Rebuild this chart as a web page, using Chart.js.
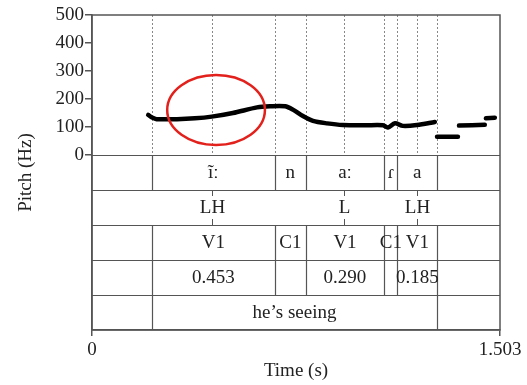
<!DOCTYPE html>
<html>
<head>
<meta charset="utf-8">
<script src="https://cdn.jsdelivr.net/npm/chart.js@4"></script>
<style>
  body { margin: 0; background: #fff; }
  canvas { display: block; }
</style>
</head>
<body>
<canvas id="pitchChart" width="527" height="385"></canvas>
<script>
// pitch track (time in s, F0 in Hz; null = unvoiced gap)
const pitchTimes = [0.207, 0.221, 0.238, 0.313, 0.379, 0.441, 0.519, 0.608, 0.656, 0.711, 0.740, 0.777, 0.814, 0.866, 0.924, 1.006, 1.072, 1.090, 1.116, 1.145, 1.197, 1.263,
    1.267, 1.271, 1.348,
    1.350, 1.352, 1.447,
    1.449, 1.451, 1.484];
const pitchHz = [143, 134, 128, 128, 131, 137, 150, 170, 174, 174, 162, 139, 122, 113, 107, 106, 106, 98, 113, 104, 107, 118,
    null, 65, 65,
    null, 105, 108,
    null, 131, 133];

// text grid tiers
const segBounds = [0.220, 0.674, 0.787, 1.077, 1.125, 1.272];
const phoneLabels = ['ĩː', 'n', 'aː', 'ɾ', 'a'];
const toneTimes = [0.441, 0.928, 1.196];
const toneLabels = ['LH', 'L', 'LH'];
const slotLabels = ['V1', 'C1', 'V1', 'C1', 'V1'];
const durLabels = ['0.453', '', '0.290', '', '0.185'];
const wordBounds = [0.220, 1.272];
const wordLabels = ['he’s seeing'];

const yTicks = [0, 100, 200, 300, 400, 500];
const xTicks = [0, 1.503];

const FONT = { family: "'Liberation Serif', 'DejaVu Serif', serif", size: 19 };
const INK = '#222';
const FRAME = '#555';

const textGrid = {
    id: 'textGrid',
    beforeDatasetsDraw(chart) {
        const ctx = chart.ctx;
        const xs = chart.scales.x, ys = chart.scales.y;
        const { left, right, top } = chart.chartArea;
        const zero = ys.getPixelForValue(0);
        const tierH = 125;   // each tier takes 125 units of the y scale
        const tierTop = i => ys.getPixelForValue(-i * tierH);

        ctx.save();
        // dotted guides in the pitch panel
        ctx.strokeStyle = '#888';
        ctx.lineWidth = 1;
        ctx.setLineDash([2, 2]);
        [...segBounds, ...toneTimes].forEach(t => {
            const px = Math.round(xs.getPixelForValue(t)) + 0.5;
            ctx.beginPath();
            ctx.moveTo(px, top);
            ctx.lineTo(px, zero);
            ctx.stroke();
        });
        ctx.setLineDash([]);

        // tier separators
        ctx.strokeStyle = FRAME;
        ctx.lineWidth = 1.2;
        for (let i = 0; i <= 4; i++) {
            const py = Math.round(tierTop(i)) + 0.5;
            ctx.beginPath();
            ctx.moveTo(left, py);
            ctx.lineTo(right, py);
            ctx.stroke();
        }

        ctx.fillStyle = INK;
        ctx.font = FONT.size + 'px ' + FONT.family;
        ctx.textAlign = 'center';
        ctx.textBaseline = 'middle';

        const intervalTier = (i, bounds, labels) => {
            const y0 = tierTop(i), y1 = tierTop(i + 1);
            ctx.strokeStyle = FRAME;
            ctx.lineWidth = 1.2;
            bounds.forEach(t => {
                const px = Math.round(xs.getPixelForValue(t)) + 0.5;
                ctx.beginPath();
                ctx.moveTo(px, y0);
                ctx.lineTo(px, y1);
                ctx.stroke();
            });
            labels.forEach((lab, k) => {
                const mid = (xs.getPixelForValue(bounds[k]) + xs.getPixelForValue(bounds[k + 1])) / 2;
                ctx.fillText(lab, mid, (y0 + y1) / 2 + 1);
            });
        };

        intervalTier(0, segBounds, phoneLabels);
        intervalTier(2, segBounds, slotLabels);
        intervalTier(3, segBounds, durLabels);
        intervalTier(4, wordBounds, wordLabels);

        // point tier
        const y0 = tierTop(1), y1 = tierTop(2);
        ctx.strokeStyle = FRAME;
        ctx.lineWidth = 1;
        toneTimes.forEach((t, k) => {
            const px = Math.round(xs.getPixelForValue(t)) + 0.5;
            ctx.beginPath();
            ctx.moveTo(px, y0);
            ctx.lineTo(px, y0 + 6);
            ctx.moveTo(px, y1 - 6);
            ctx.lineTo(px, y1);
            ctx.stroke();
            ctx.fillText(toneLabels[k], px, (y0 + y1) / 2 + 1);
        });
        ctx.restore();
    },
    afterDatasetsDraw(chart) {
        const ctx = chart.ctx;
        const xs = chart.scales.x, ys = chart.scales.y;
        const { left, right, top, bottom } = chart.chartArea;
        ctx.save();
        // frame
        ctx.strokeStyle = FRAME;
        ctx.lineWidth = 1.5;
        ctx.strokeRect(left, top, right - left, bottom - top);

        // red highlight ellipse
        const cx = xs.getPixelForValue(0.457), cy = ys.getPixelForValue(161);
        const rx = xs.getPixelForValue(0.457 + 0.180) - cx;
        const ry = ys.getPixelForValue(161) - ys.getPixelForValue(161 + 125);
        ctx.strokeStyle = '#e3211c';
        ctx.lineWidth = 2.5;
        ctx.beginPath();
        ctx.ellipse(cx, cy, rx, ry, 0, 0, Math.PI * 2);
        ctx.stroke();
        ctx.restore();
    }
};

const ctx = document.getElementById('pitchChart').getContext('2d');
new Chart(ctx, {
    type: 'line',
    data: {
        datasets: [{
            data: pitchTimes.map((t, i) => ({ x: t, y: pitchHz[i] })),
            borderColor: '#000',
            borderWidth: 4.5,
            borderCapStyle: 'round',
            borderJoinStyle: 'round',
            pointRadius: 0,
            tension: 0.3,
            spanGaps: false
        }]
    },
    options: {
        responsive: false,
        animation: false,
        layout: { padding: { top: 15, right: 27, left: 15, bottom: 0 } },
        plugins: {
            legend: { display: false },
            tooltip: { enabled: false }
        },
        scales: {
            x: {
                type: 'linear',
                min: 0,
                max: 1.503,
                afterBuildTicks: s => { s.ticks = xTicks.map(v => ({ value: v })); },
                afterFit: s => { s.height = 55; },
                grid: { drawOnChartArea: false, tickLength: 6, color: FRAME, lineWidth: 1.5 },
                border: { color: FRAME, width: 1.5 },
                ticks: { font: FONT, color: INK, padding: 3, maxRotation: 0, callback: v => String(v) },
                title: { display: true, text: 'Time (s)', font: FONT, color: INK, padding: { top: 0, bottom: 3 } }
            },
            y: {
                min: -625,
                max: 500,
                afterBuildTicks: s => { s.ticks = yTicks.map(v => ({ value: v })); },
                afterFit: s => { s.width = 77; },
                grid: { drawOnChartArea: false, tickLength: 7, color: FRAME, lineWidth: 1.5 },
                border: { color: FRAME, width: 1.5 },
                ticks: { font: FONT, color: INK, padding: 1 },
                title: { display: true, text: 'Pitch (Hz)', font: FONT, color: INK, padding: 0 }
            }
        }
    },
    plugins: [textGrid]
});
</script>
</body>
</html>
